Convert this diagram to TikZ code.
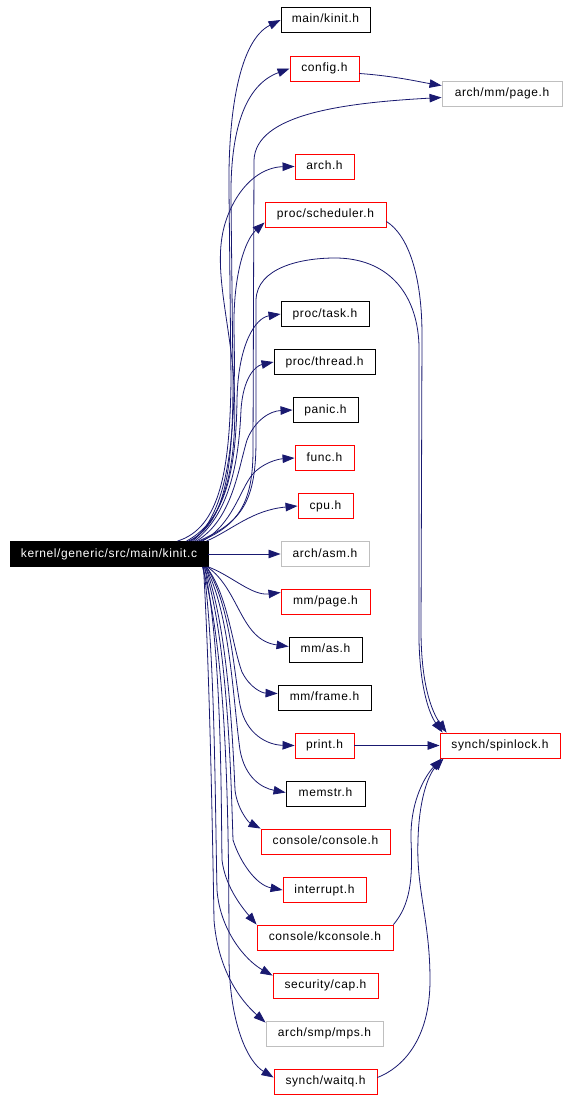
\documentclass[tikz,border=0pt]{standalone}
\usepackage{fontspec}
\setmainfont{Liberation Sans}[LetterSpace=5]
\usetikzlibrary{arrows.meta}
\definecolor{edgeblue}{HTML}{191970}
\definecolor{redbox}{HTML}{FF0000}
\definecolor{graybox}{HTML}{BFBFBF}
\tikzset{
  hdr/.style={draw=black, line width=0.9pt, minimum height=25pt, inner xsep=2pt, inner ysep=0pt,
    text height=8.5pt, text depth=2.5pt, font=\fontsize{12}{14}\selectfont, anchor=center, fill=white},
  redhdr/.style={hdr, draw=redbox},
  grayhdr/.style={hdr, draw=graybox},
  mainhdr/.style={hdr, fill=black, draw=black, text=white},
  dep/.style={draw=edgeblue, line width=0.8pt, -{Triangle[length=12pt,width=8.5pt]}},
}
\begin{document}
\begin{tikzpicture}[x=1pt,y=-1pt]
\useasboundingbox (0,0) rectangle (567,1100);
\fill[white] (0,0) rectangle (567,1100);

\node[mainhdr, minimum width=198pt] (k) at (109,554) {kernel/generic/src/main/kinit.c};

\node[hdr, minimum width=89pt] (kinith) at (325.5,20) {main/kinit.h};
\node[redhdr, minimum width=69pt] (config) at (324.5,68.5) {config.h};
\node[grayhdr, minimum width=120pt] (page) at (502,93.5) {arch/mm/page.h};
\node[redhdr, minimum width=59pt] (arch) at (324.5,166.5) {arch.h};
\node[redhdr, minimum width=121pt] (sched) at (325.5,214.5) {proc/scheduler.h};
\node[hdr, minimum width=88pt] (task) at (325,314) {proc/task.h};
\node[hdr, minimum width=101pt] (thread) at (324.5,362) {proc/thread.h};
\node[hdr, minimum width=65pt] (panic) at (325.5,410) {panic.h};
\node[redhdr, minimum width=59pt] (func) at (324.5,458) {func.h};
\node[redhdr, minimum width=55pt] (cpu) at (325.5,506) {cpu.h};
\node[grayhdr, minimum width=88pt] (asm) at (325,554) {arch/asm.h};
\node[redhdr, minimum width=89pt] (mmpage) at (325.5,601.5) {mm/page.h};
\node[hdr, minimum width=73pt] (mmas) at (325.5,649.5) {mm/as.h};
\node[hdr, minimum width=93pt] (frame) at (324.5,697.5) {mm/frame.h};
\node[redhdr, minimum width=59pt] (print) at (324.5,745.5) {print.h};
\node[redhdr, minimum width=120pt] (spin) at (500,745.5) {synch/spinlock.h};
\node[hdr, minimum width=79pt] (memstr) at (325.5,793.5) {memstr.h};
\node[redhdr, minimum width=129pt] (console) at (325.5,841.5) {console/console.h};
\node[redhdr, minimum width=83pt] (interrupt) at (324.5,890) {interrupt.h};
\node[redhdr, minimum width=136pt] (kconsole) at (325,937.5) {console/kconsole.h};
\node[redhdr, minimum width=105pt] (cap) at (325.5,985.5) {security/cap.h};
\node[grayhdr, minimum width=117pt] (mps) at (324.5,1033.5) {arch/smp/mps.h};
\node[redhdr, minimum width=103pt] (waitq) at (325.5,1081.5) {synch/waitq.h};

% upward edges
\draw[dep] ([xshift=-31pt]k.north east) .. controls (220,528) and (230,470) .. (231,380) -- (229,190) .. controls (228,110) and (240,40) .. (kinith.west);
\draw[dep] ([xshift=-20pt]k.north east) .. controls (225,525) and (233,470) .. (233,380) -- (231,200) .. controls (230,130) and (245,85) .. (config.west);
\draw[dep] ([xshift=-8pt]k.north east) .. controls (240,525) and (253,500) .. (253,450) -- (254,160) .. controls (256,115) and (340,103) .. ([yshift=-4pt]page.west);
\draw[dep] ([yshift=-5pt]config.east) .. controls (395,76) and (420,82) .. ([yshift=8pt]page.west);
\draw[dep] ([xshift=-18pt]k.north east) .. controls (232,515) and (240,440) .. (232,360) .. controls (225,300) and (212,255) .. (228,215) .. controls (242,180) and (265,167) .. (arch.west);
\draw[dep] ([xshift=-16pt]k.north east) .. controls (232,510) and (236,420) .. (234,330) .. controls (233,275) and (245,240) .. ([yshift=-8pt]sched.west);
\draw[dep] ([xshift=-10pt]k.north east) .. controls (243,522) and (256,500) .. (256,440) -- (256,300) .. controls (257,268) and (300,258) .. (335,258) .. controls (385,258) and (417,290) .. (419,345) -- (419,640) .. controls (420,690) and (430,715) .. ([xshift=3pt]spin.north west);
\draw[dep] ([yshift=-7pt]sched.east) .. controls (408,235) and (422,275) .. (422,335) -- (421,630) .. controls (421,685) and (432,712) .. ([xshift=7pt]spin.north west);
\draw[dep] ([xshift=-22pt]k.north east) .. controls (226,520) and (236,470) .. (237,400) .. controls (238,345) and (255,318) .. (task.west);
\draw[dep] ([xshift=-14pt]k.north east) .. controls (232,512) and (239,455) .. (241,410) .. controls (243,378) and (255,366) .. (thread.west);
\draw[dep] ([xshift=-12pt]k.north east) .. controls (232,520) and (238,470) .. (247,440) .. controls (255,420) and (270,411) .. (panic.west);
\draw[dep] ([xshift=-6pt]k.north east) .. controls (232,525) and (240,490) .. (252,475) .. controls (262,463) and (278,459) .. (func.west);
\draw[dep] ([xshift=-2pt]k.north east) .. controls (232,530) and (252,510) .. (cpu.west);
\draw[dep] (k.east) -- (asm.west);

% downward edges
\draw[dep] (k.south east) .. controls (232,576) and (252,596) .. ([yshift=9pt]mmpage.west);
\draw[dep] ([xshift=-1pt]k.south east) .. controls (240,590) and (240,640) .. ([yshift=3pt]mmas.west);
\draw[dep] ([xshift=-2pt]k.south east) .. controls (228,595) and (232,645) .. (242,672) .. controls (250,688) and (262,693) .. ([yshift=4pt]frame.west);
\draw[dep] ([xshift=-2pt]k.south east) .. controls (230,605) and (233,665) .. (240,705) .. controls (246,735) and (268,745) .. (print.west);
\draw[dep] (print.east) -- (spin.west);
\draw[dep] ([xshift=-3pt]k.south east) .. controls (230,612) and (233,700) .. (240,750) .. controls (245,778) and (262,788) .. ([yshift=1pt]memstr.west);
\draw[dep] ([xshift=-3pt]k.south east) .. controls (226,622) and (232,720) .. (235,790) .. controls (237,808) and (248,822) .. (console.north west);
\draw[dep] ([xshift=-4pt]k.south east) .. controls (228,640) and (231,780) .. (233,840) .. controls (240,862) and (256,885) .. (interrupt.west);
\draw[dep] ([xshift=-4pt]k.south east) .. controls (222,650) and (221,800) .. (222,860) .. controls (225,885) and (240,905) .. (kconsole.north west);
\draw[dep] (kconsole.north east) .. controls (410,905) and (413,880) .. (411,840) .. controls (410,800) and (426,775) .. ([xshift=2pt]spin.south west);
\draw[dep] ([xshift=-5pt]k.south east) .. controls (215,650) and (215,800) .. (217,890) .. controls (220,930) and (245,960) .. ([yshift=-3pt]cap.north west);
\draw[dep] ([xshift=-5pt]k.south east) .. controls (209,660) and (212,800) .. (214,920) .. controls (218,970) and (240,1000) .. ([yshift=-2pt]mps.north west);
\draw[dep] ([xshift=-6pt]k.south east) .. controls (226,650) and (229,800) .. (229,960) .. controls (230,1025) and (248,1062) .. ([yshift=4pt]waitq.west);
\draw[dep] ([yshift=4pt]waitq.east) .. controls (402,1068) and (430,1040) .. (430,980) .. controls (430,920) and (416,890) .. (418,840) .. controls (419,800) and (428,775) .. ([xshift=4pt]spin.south west);
\end{tikzpicture}
\end{document}
